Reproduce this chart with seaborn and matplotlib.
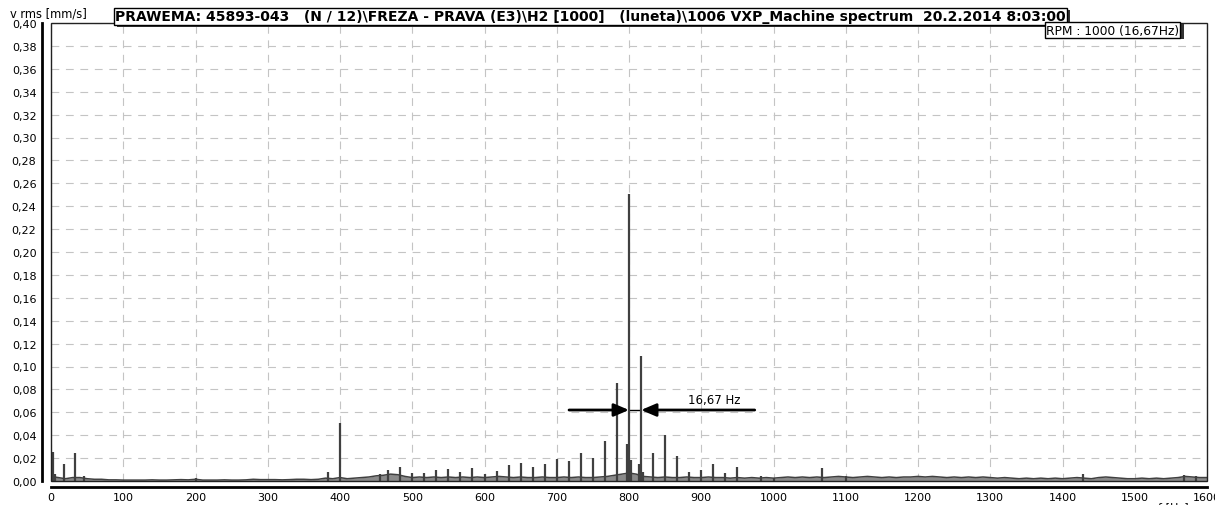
import numpy as np
import pandas as pd
import matplotlib
matplotlib.use("Agg")
import matplotlib.pyplot as plt
import matplotlib.patheffects as pe
from matplotlib.patches import Rectangle
from matplotlib.ticker import FuncFormatter
import seaborn as sns

# ---------------- data ----------------
floor_freq = list(range(0, 1610, 10))
floor_amp = [
    0.004, 0.003, 0.002, 0.003, 0.003, 0.002, 0.0015, 0.0015, 0.001, 0.001,
    0.0008, 0.0008, 0.0008, 0.0008, 0.001, 0.0008, 0.0008, 0.001, 0.0012, 0.001,
    0.0015, 0.0008, 0.0008, 0.0008, 0.001, 0.0008, 0.0008, 0.001, 0.0015, 0.0012,
    0.0012, 0.0012, 0.001, 0.0012, 0.0015, 0.0015, 0.0012, 0.0015, 0.0025, 0.002,
    0.003, 0.002, 0.0025, 0.003, 0.0035, 0.0045, 0.005, 0.006, 0.0055, 0.004,
    0.003, 0.0035, 0.003, 0.0035, 0.003, 0.0035, 0.003, 0.0035, 0.003, 0.0035,
    0.003, 0.0035, 0.004, 0.0035, 0.003, 0.0035, 0.003, 0.003, 0.0035, 0.003,
    0.003, 0.0035, 0.003, 0.0035, 0.003, 0.003, 0.0035, 0.004, 0.005, 0.006,
    0.007, 0.006, 0.004, 0.0035, 0.003, 0.0035, 0.003, 0.003, 0.0035, 0.003,
    0.003, 0.0035, 0.003, 0.003, 0.0025, 0.003, 0.0025, 0.003, 0.0025, 0.003,
    0.0025, 0.003, 0.0035, 0.003, 0.0035, 0.003, 0.0035, 0.003, 0.0035, 0.004,
    0.0035, 0.003, 0.0035, 0.004, 0.0035, 0.003, 0.0035, 0.003, 0.0035, 0.0035,
    0.004, 0.0035, 0.004, 0.0035, 0.003, 0.0035, 0.003, 0.0035, 0.003, 0.0035,
    0.003, 0.0025, 0.003, 0.0025, 0.002, 0.0025, 0.002, 0.0025, 0.002, 0.0025,
    0.002, 0.0025, 0.003, 0.0025, 0.002, 0.003, 0.0035, 0.003, 0.0025, 0.002,
    0.002, 0.0025, 0.002, 0.0025, 0.002, 0.0025, 0.003, 0.004, 0.0035, 0.003,
    0.003,
]

peak_freq = [0.5, 3, 6, 18, 33.3, 45, 200, 383, 400, 455, 466.7, 483.3,
             500, 516.7, 533.3, 550, 566.7, 583.3, 600, 616.7, 633.3, 650,
             666.7, 683.3, 700, 716.7, 733.3, 750, 766.7, 783.3, 797.5, 800,
             803, 814, 816.7, 819, 833.3, 850, 866.7, 883.3, 900, 916.7,
             933.3, 950, 983, 1000, 1066.7, 1100, 1428, 1568, 1585]
peak_amp = [0.011, 0.0256, 0.006, 0.0148, 0.0244, 0.004, 0.003, 0.0076, 0.0507, 0.006, 0.0096, 0.0122,
            0.007, 0.0066, 0.0096, 0.0105, 0.0076, 0.0116, 0.0058, 0.0087, 0.014, 0.016,
            0.0122, 0.0145, 0.0189, 0.0178, 0.0244, 0.0205, 0.0346, 0.0856, 0.032, 0.251,
            0.018, 0.0145, 0.109, 0.008, 0.0244, 0.0404, 0.0215, 0.0076, 0.0099, 0.0145,
            0.0067, 0.012, 0.0048, 0.003, 0.0113, 0.004, 0.0058, 0.005, 0.004]

x_ticks = list(range(0, 1700, 100))
x_tick_labels = [str(v) for v in x_ticks]
y_ticks = [round(0.02 * i, 2) for i in range(21)]

title_text = ("PRAWEMA: 45893-043   (N / 12)\\FREZA - PRAVA (E3)\\H2 [1000]   "
              "(luneta)\\1006 VXP_Machine spectrum  20.2.2014 8:03:00")
rpm_text = "RPM : 1000 (16,67Hz)"
y_label = "v rms [mm/s]"
x_label = "f [Hz]"
delta_label = "16,67 Hz"
delta_left = (717, 800)
delta_right = (974, 816.7)
delta_y = 0.062
delta_label_pos = (918, 0.0715)

# ---------------- plot ----------------
sns.set_theme(style="white")
plt.rcParams["font.family"] = ["DejaVu Sans"]

W, H = 1215, 506
fig = plt.figure(figsize=(W / 100, H / 100), dpi=100)
ax = fig.add_axes([51 / W, 1 - 482 / H, (1207 - 51) / W, (482 - 24) / H])

line_col = "#404040"
df_floor = pd.DataFrame({"f": floor_freq, "a": floor_amp})
ax.fill_between(df_floor["f"], 0, df_floor["a"], color="#8a8a8a", lw=0, zorder=2)
sns.lineplot(data=df_floor, x="f", y="a", ax=ax, color=line_col, lw=1.1, zorder=3)
ax.vlines(peak_freq, 0, peak_amp, color=line_col, lw=1.6, zorder=3)

ax.set_xlim(0, 1600)
ax.set_ylim(0, 0.40)
ax.set_xlabel("")
ax.set_ylabel("")

ax.grid(True, color="#c4c4c4", linestyle=(0, (7, 6)), linewidth=0.8)
ax.set_axisbelow(True)

# frame on top of the grid, axis lines offset outward
ax.add_patch(Rectangle((0, 0), 1, 1, transform=ax.transAxes, fill=False,
                       ec="#222222", lw=1.0, zorder=5, clip_on=False))
for s in ["top", "right"]:
    ax.spines[s].set_visible(False)
ax.spines["left"].set_position(("outward", 6.5))
ax.spines["bottom"].set_position(("outward", 4.3))
for s in ["left", "bottom"]:
    ax.spines[s].set_linewidth(2.0)
    ax.spines[s].set_color("black")

ax.set_xticks(x_ticks)
ax.set_xticklabels(x_tick_labels)
ax.set_yticks(y_ticks)
ax.yaxis.set_major_formatter(FuncFormatter(lambda v, p: f"{v:.2f}".replace(".", ",")))
ax.tick_params(axis="both", which="major", direction="inout", length=6, width=1.2,
               color="black", labelsize=8, labelcolor="black", pad=1)
ax.tick_params(axis="x", pad=0.5)

# delta annotation
arrow_kw = dict(arrowstyle="-|>,head_length=0.75,head_width=0.32", color="black", lw=2,
                shrinkA=0, shrinkB=0)
ax.annotate("", xy=(delta_left[1], delta_y), xytext=(delta_left[0], delta_y), arrowprops=arrow_kw)
ax.annotate("", xy=(delta_right[1], delta_y), xytext=(delta_right[0], delta_y), arrowprops=arrow_kw)
ax.plot([delta_left[1], delta_right[1]], [delta_y, delta_y], color="black", lw=1)
ax.text(delta_label_pos[0], delta_label_pos[1], delta_label,
        ha="center", va="center", fontsize=8.5, color="black")

# texts
fig.text(10 / W, 1 - 14 / H, y_label, ha="left", va="center", fontsize=8.3, color="black")
t = fig.text(115 / W, 1 - 17.5 / H, title_text, ha="left", va="center", fontsize=10,
             fontweight="bold", color="black",
             bbox=dict(boxstyle="square,pad=0.08", fc="white", ec="black", lw=1))
t.get_bbox_patch().set_path_effects([pe.SimplePatchShadow(offset=(2.5, -1.5), shadow_rgbFace="#333333", alpha=1),
                                      pe.Normal()])
r = fig.text(1179 / W, 1 - 31 / H, rpm_text, ha="right", va="center", fontsize=8.8,
             color="black",
             bbox=dict(boxstyle="square,pad=0.1", fc="white", ec="black", lw=1))
r.get_bbox_patch().set_path_effects([pe.SimplePatchShadow(offset=(2.5, -1.0), shadow_rgbFace="#333333", alpha=1),
                                      pe.Normal()])
fig.text(1158 / W, 1 - 502 / H, x_label, ha="left", va="top", fontsize=8, color="black")

fig.savefig("out.png", dpi=100)
